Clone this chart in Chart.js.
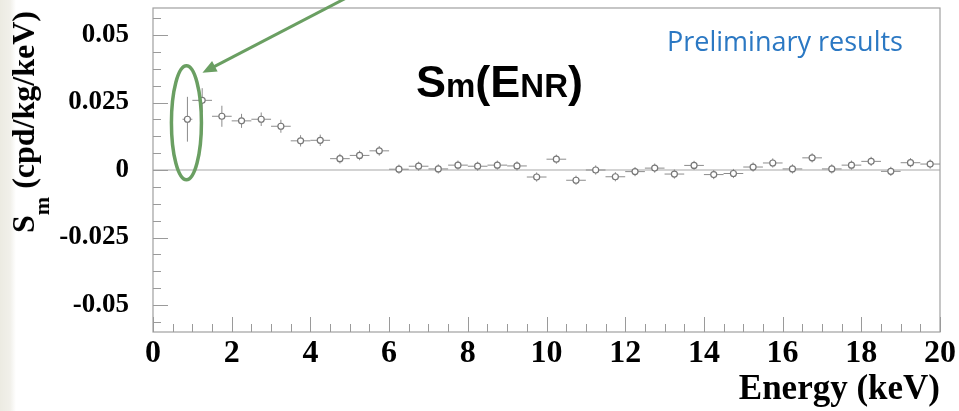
<!DOCTYPE html>
<html>
<head>
<meta charset="utf-8">
<script src="https://cdn.jsdelivr.net/npm/chart.js@4.4.1/dist/chart.umd.min.js"></script>
<style>
  html, body { margin: 0; padding: 0; background: #fff; }
  #wrap { position: relative; width: 959px; height: 411px; overflow: hidden;
          background: linear-gradient(to right, #ecebe2 0px, #f1f0ea 10px, #ffffff 16px); }
  #c { position: absolute; left: 0; top: 0; }
  .lbl { position: absolute; white-space: nowrap; }
  #sm { left: 416px; top: 56px; font: bold 45px "Liberation Sans", Arial, sans-serif; color: #000; }
  #sm small { font-size: 33px; }
  #prelim { left: 667px; top: 22px; font: 27px "Open Sans", sans-serif; color: #2b78c3; }
  #ytitle { left: 30px; top: 122px; transform: translate(-50%, -50%) rotate(-90deg);
            font: bold 32px "Liberation Serif", "Times New Roman", serif; color: #000; }
  #ytitle sub { font-size: 22px; vertical-align: -15px; }
</style>
</head>
<body>
<div id="wrap">
  <canvas id="c" width="959" height="411"></canvas>
  <div class="lbl" id="prelim">Preliminary results</div>
  <div class="lbl" id="sm">S<small>m</small>(E<small>NR</small>)</div>
  <div class="lbl" id="ytitle">S<sub>m</sub> (cpd/kg/keV)</div>
</div>
<script>
// bin centres (keV), modulation amplitude, errors
const energy = [0.875, 1.25, 1.75, 2.25, 2.75, 3.25, 3.75, 4.25, 4.75, 5.25, 5.75,
  6.25, 6.75, 7.25, 7.75, 8.25, 8.75, 9.25, 9.75, 10.25, 10.75, 11.25, 11.75,
  12.25, 12.75, 13.25, 13.75, 14.25, 14.75, 15.25, 15.75, 16.25, 16.75, 17.25,
  17.75, 18.25, 18.75, 19.25, 19.75];
const sm = [0.0188, 0.0258, 0.0199, 0.0182, 0.0188, 0.0162, 0.0108, 0.0110, 0.0042, 0.0054, 0.0071,
  0.0003, 0.0014, 0.0004, 0.0018, 0.0014, 0.0018, 0.0015, -0.0026, 0.0040, -0.0038, 0.0000, -0.0025,
  -0.0006, 0.0007, -0.0015, 0.0017, -0.0017, -0.0013, 0.0011, 0.0026, 0.0004, 0.0045, 0.0004,
  0.0018, 0.0032, -0.0005, 0.0027, 0.0022];
const smErr = [0.0083, 0.0045, 0.0039, 0.0026, 0.0025, 0.0024, 0.0021, 0.0021, 0.0018, 0.0018, 0.0018,
  0.0017, 0.0017, 0.0017, 0.0017, 0.0017, 0.0017, 0.0017, 0.0017, 0.0017, 0.0017, 0.0017, 0.0017,
  0.0017, 0.0017, 0.0017, 0.0017, 0.0017, 0.0017, 0.0017, 0.0017, 0.0017, 0.0017, 0.0017,
  0.0017, 0.0017, 0.0017, 0.0017, 0.0017];
const binHalf = [0.125, 0.25, 0.25, 0.25, 0.25, 0.25, 0.25, 0.25, 0.25, 0.25, 0.25,
  0.25, 0.25, 0.25, 0.25, 0.25, 0.25, 0.25, 0.25, 0.25, 0.25, 0.25, 0.25,
  0.25, 0.25, 0.25, 0.25, 0.25, 0.25, 0.25, 0.25, 0.25, 0.25, 0.25,
  0.25, 0.25, 0.25, 0.25, 0.25];
const xTicks = [0, 2, 4, 6, 8, 10, 12, 14, 16, 18, 20];
const yTicks = [-0.05, -0.025, 0, 0.025, 0.05];
const yTickLabels = ['-0.05', '-0.025', '0', '0.025', '0.05'];

const points = energy.map((e, i) => ({ x: e, y: sm[i] }));

// frame, inside ticks, zero line, error bars, ellipse + arrow
const frameAndBars = {
  id: 'frameAndBars',
  beforeDatasetsDraw(chart) {
    const { ctx, chartArea: a, scales: { x, y } } = chart;
    ctx.save();
    // zero line
    ctx.strokeStyle = '#c4c4c4';
    ctx.lineWidth = 1.5;
    ctx.beginPath();
    ctx.moveTo(a.left, y.getPixelForValue(0));
    ctx.lineTo(a.right, y.getPixelForValue(0));
    ctx.stroke();
    // box
    ctx.strokeStyle = '#a0a0a0';
    ctx.lineWidth = 1.2;
    ctx.strokeRect(a.left, a.top, a.right - a.left, a.bottom - a.top);
    // ticks
    ctx.strokeStyle = '#9a9a9a';
    ctx.lineWidth = 1;
    ctx.beginPath();
    for (let v = 0; v <= 20.001; v += 0.5) {
      const px = Math.round(x.getPixelForValue(v)) + 0.5;
      const len = Math.abs(v % 2) < 0.01 ? 15 : 8;
      ctx.moveTo(px, a.bottom);
      ctx.lineTo(px, a.bottom - len);
    }
    for (let k = -9; k <= 9; k++) {
      const v = k * 0.00625;
      const py = Math.round(y.getPixelForValue(v)) + 0.5;
      const len = k % 4 === 0 ? 15 : 8;
      ctx.moveTo(a.left, py);
      ctx.lineTo(a.left + len, py);
    }
    ctx.stroke();
    // error bars
    ctx.strokeStyle = '#8c8c8c';
    ctx.lineWidth = 1;
    ctx.beginPath();
    energy.forEach((e, i) => {
      const px = x.getPixelForValue(e), py = y.getPixelForValue(sm[i]);
      ctx.moveTo(x.getPixelForValue(e - binHalf[i]), py);
      ctx.lineTo(x.getPixelForValue(e + binHalf[i]), py);
      ctx.moveTo(px, y.getPixelForValue(sm[i] - smErr[i]));
      ctx.lineTo(px, y.getPixelForValue(sm[i] + smErr[i]));
    });
    ctx.stroke();
    ctx.restore();
  },
  afterDatasetsDraw(chart) {
    const { ctx, scales: { x, y } } = chart;
    const cx = x.getPixelForValue(energy[0]) - 1;
    const cy = y.getPixelForValue(0.0175);
    ctx.save();
    ctx.strokeStyle = '#6a9f62';
    ctx.fillStyle = '#6a9f62';
    ctx.lineWidth = 3.5;
    ctx.beginPath();
    ctx.ellipse(cx, cy, 15, 57, 0, 0, Math.PI * 2);
    ctx.stroke();
    // arrow
    const tx = cx + 16, ty = cy - 50;
    const sx = 350, sy = -4;
    const ang = Math.atan2(ty - sy, tx - sx);
    ctx.lineWidth = 3;
    ctx.beginPath();
    ctx.moveTo(sx, sy);
    ctx.lineTo(tx - 10 * Math.cos(ang), ty - 10 * Math.sin(ang));
    ctx.stroke();
    ctx.beginPath();
    ctx.moveTo(tx, ty);
    ctx.lineTo(tx - 14 * Math.cos(ang) + 6 * Math.sin(ang), ty - 14 * Math.sin(ang) - 6 * Math.cos(ang));
    ctx.lineTo(tx - 14 * Math.cos(ang) - 6 * Math.sin(ang), ty - 14 * Math.sin(ang) + 6 * Math.cos(ang));
    ctx.closePath();
    ctx.fill();
    ctx.restore();
  }
};

new Chart(document.getElementById('c'), {
  type: 'scatter',
  data: {
    datasets: [{
      data: points,
      pointRadius: 3,
      pointBorderWidth: 1.2,
      pointBorderColor: '#777',
      pointBackgroundColor: '#fff'
    }]
  },
  options: {
    responsive: false,
    animation: false,
    layout: { padding: { top: 8, right: 19, left: 0, bottom: 0 } },
    plugins: { legend: { display: false }, tooltip: { enabled: false } },
    scales: {
      x: {
        type: 'linear', min: 0, max: 20,
        grid: { display: false, drawTicks: false }, border: { display: false },
        afterBuildTicks: s => { s.ticks = xTicks.map(v => ({ value: v })); },
        afterFit: s => { s.height = 79; s.paddingLeft = 0; s.paddingRight = 0; },
        ticks: {
          padding: 3, maxRotation: 0, color: '#000',
          font: { family: '"Liberation Serif", serif', size: 32, weight: 'bold' }
        },
        title: {
          display: true, text: 'Energy (keV)', align: 'end', color: '#000',
          padding: { top: 0, bottom: 0 },
          font: { family: '"Liberation Serif", serif', size: 35, weight: 'bold' }
        }
      },
      y: {
        type: 'linear', min: -0.06, max: 0.06,
        grid: { display: false, drawTicks: false }, border: { display: false },
        afterBuildTicks: s => { s.ticks = yTicks.map(v => ({ value: v })); },
        afterFit: s => { s.width = 153; s.paddingTop = 0; s.paddingBottom = 0; },
        ticks: {
          padding: 24, color: '#000',
          callback: v => yTickLabels[yTicks.indexOf(v)],
          font: { family: '"Liberation Serif", serif', size: 27, weight: 'bold' }
        }
      }
    }
  },
  plugins: [frameAndBars]
});
</script>
</body>
</html>
